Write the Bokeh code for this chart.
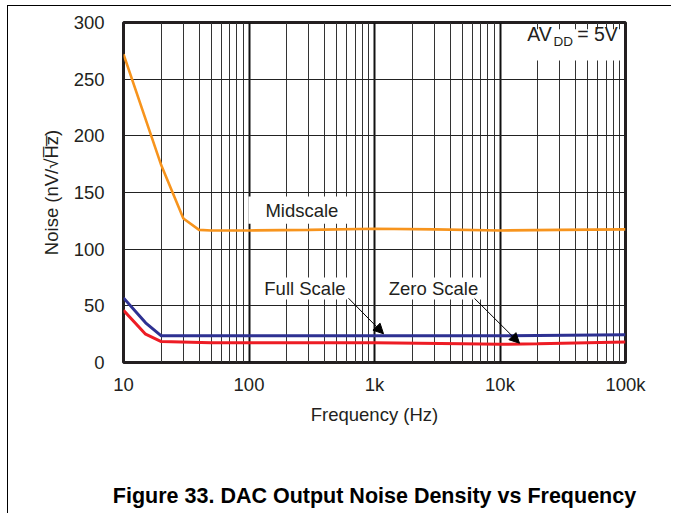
from bokeh.plotting import figure
from bokeh.models import (LogTicker, SingleIntervalTicker, FixedTicker, CustomJSTickFormatter,
                          Label, BoxAnnotation, Arrow, NormalHead, LinearAxis)
from bokeh.embed import file_html
from bokeh.resources import INLINE

# ---- data ----
freq_mid = [10, 20, 30, 40, 50, 100, 300, 1000, 3000, 10000, 30000, 100000]
noise_mid = [272, 174, 127, 117, 116.5, 116.5, 117, 118, 117.5, 116.5, 117, 117.5]

freq_full = [10, 15, 20, 100, 1000, 10000, 100000]
noise_full = [57, 35, 23.5, 23.5, 23.5, 23.5, 24.5]

freq_zero = [10, 15, 20, 50, 1000, 5000, 10000, 20000, 100000]
noise_zero = [46, 25, 18.5, 17.5, 17.5, 16.5, 16, 16.5, 18]

x_tick_labels = ["10", "100", "1k", "10k", "100k"]

FONT = "Liberation Sans"
INK = "#231F20"

p = figure(width=664, height=508, x_axis_type="log", x_range=(10, 100000), y_range=(0, 300),
           output_backend="svg", toolbar_location=None,
           min_border_left=115, min_border_top=16, min_border_right=47, min_border_bottom=152)
p.styles = {"border-left": "1px solid #000", "border-top": "1px solid #000",
            "margin-left": "7px", "margin-top": "5px"}

p.outline_line_color = INK
p.outline_line_width = 3
p.background_fill_color = "white"
p.border_fill_color = "white"

# axes
p.xaxis.ticker = LogTicker(num_minor_ticks=10)
p.xaxis.formatter = CustomJSTickFormatter(args=dict(labels=x_tick_labels), code="""
    const e = Math.round(Math.log10(tick)) - 1;
    return (e >= 0 && e < labels.length) ? labels[e] : "";
""")
p.yaxis.ticker = SingleIntervalTicker(interval=50)

for ax in (p.xaxis, p.yaxis):
    ax.axis_line_color = None
    ax.major_tick_line_color = None
    ax.minor_tick_line_color = None
    ax.major_label_text_font = FONT
    ax.major_label_text_font_size = "18.5px"
    ax.major_label_text_color = INK
    ax.axis_label_text_font = FONT
    ax.axis_label_text_font_size = "18.5px"
    ax.axis_label_text_font_style = "normal"
    ax.axis_label_text_color = INK

p.xaxis.major_label_standoff = 5
p.xaxis.axis_label = "Frequency (Hz)"
p.xaxis.axis_label_standoff = 6
p.yaxis.major_label_standoff = 13
p.yaxis.axis_label = "Noise (nV/\u221AH\u0305z\u0305)"
p.yaxis.axis_label_standoff = 9

# caption as the label of a tick-less second bottom axis
cap = LinearAxis(ticker=FixedTicker(ticks=[]), axis_line_color=None,
                 major_tick_line_color=None, minor_tick_line_color=None,
                 major_label_text_font_size="0px",
                 axis_label="Figure 33. DAC Output Noise Density vs Frequency",
                 axis_label_text_font=FONT, axis_label_text_font_size="21.5px",
                 axis_label_text_font_style="bold", axis_label_text_color="black",
                 axis_label_standoff=56)
p.add_layout(cap, "below")

# grid
p.xgrid.grid_line_color = "#111111"
p.xgrid.grid_line_width = 2
p.xgrid.minor_grid_line_color = "#333333"
p.xgrid.minor_grid_line_width = 1
p.ygrid.grid_line_color = "#222222"
p.ygrid.grid_line_width = 1

# white boxes behind the labels
for l, r, b, t in [(99, 610, 122.5, 146.5), (117, 668, 55.6, 75), (1117, 7650, 55.6, 75),
                   (14550, 95000, 266.5, 294)]:
    p.add_layout(BoxAnnotation(left=l, right=r, bottom=b, top=t, fill_color="white",
                               fill_alpha=1, line_color=None))

# series
p.line(freq_mid, noise_mid, line_color="#F7941D", line_width=2.6)
p.line(freq_full, noise_full, line_color="#2E3192", line_width=3)
p.line(freq_zero, noise_zero, line_color="#ED1C24", line_width=3)

def lab(x, y, text, size="18.5px", align="left"):
    p.add_layout(Label(x=x, y=y, text=text, text_font=FONT, text_font_size=size,
                       text_color=INK, text_align=align, text_baseline="alphabetic"))

lab(264, 134, "Midscale", align="center")
lab(279, 65, "Full Scale", align="center")
lab(2951, 65, "Zero Scale", align="center")
lab(16470, 290, "AV", size="19.5px")
lab(26680, 283, "DD", size="13.5px")
lab(41220, 290, "= 5V", size="19.5px")

for (x0, y0, x1, y1) in [(621, 56.7, 1180, 25.3), (6270, 56.5, 14300, 17.0)]:
    p.add_layout(Arrow(end=NormalHead(size=10, fill_color="black", line_color="black"),
                       x_start=x0, y_start=y0, x_end=x1, y_end=y1,
                       line_color="black", line_width=1))

open("out.html", "w").write(file_html(p, INLINE))
